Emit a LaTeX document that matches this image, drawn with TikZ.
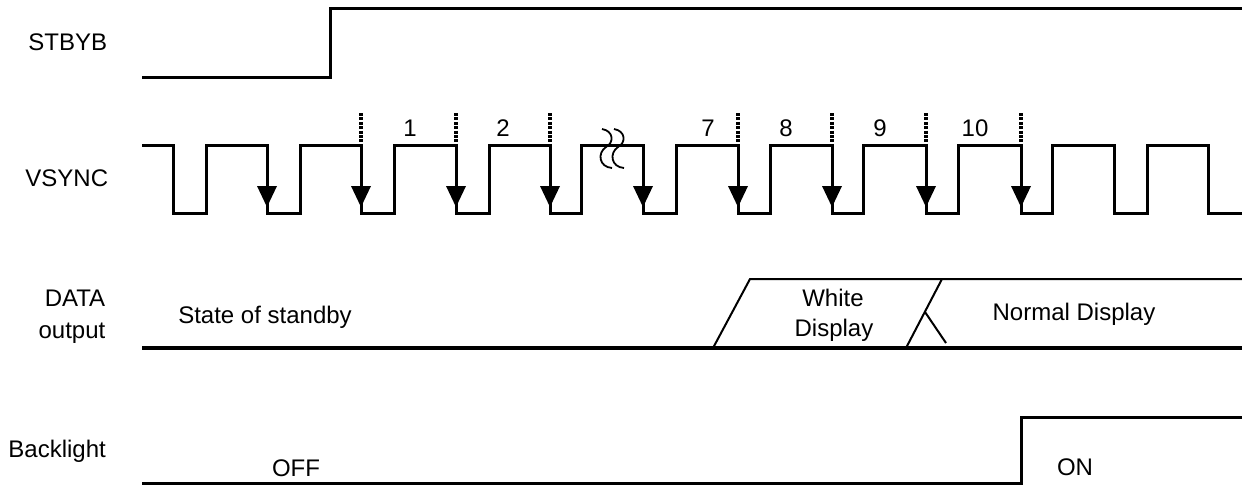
\documentclass[tikz,border=0pt]{standalone}
\usepackage{fontspec}
\setmainfont{Liberation Sans}
\begin{document}
\begin{tikzpicture}[x=0.5pt,y=-0.5pt,
  sig/.style={line width=1.5pt,line join=miter},
  thinsig/.style={line width=1pt},
  lbl/.style={inner sep=0pt,anchor=base,font=\fontsize{12}{14}\selectfont},
  dotmark/.style={line width=1.7pt,dash pattern=on 1.5pt off 0.7pt},
  arrline/.style={line width=1pt},
  arrhead/.style={fill=black,draw=none}]
\useasboundingbox (0,0) rectangle (1242,484);

% ---- labels on the left
\node[lbl,anchor=base west] (lstby) at (28,50) {STBYB};
\node[lbl,anchor=base west] (lvs) at (25,186) {VSYNC};
\node[lbl] (ldata) at (75,306) {DATA};
\node[lbl] (lout) at (72,338) {output};
\node[lbl,anchor=base west] (lback) at (8,457) {Backlight};

% ---- STBYB
\draw[sig] (142,77) -- (330,77) -- (330,8) -- (1242,8);

% ---- VSYNC waveform
\draw[sig] (142,145) -- (173,145) -- (173,213) -- (206,213) -- (206,145)
  -- (267,145) -- (267,213) -- (300,213) -- (300,145)
  -- (361,145) -- (361,213) -- (394,213) -- (394,145)
  -- (456,145) -- (456,213) -- (489,213) -- (489,145)
  -- (550,145) -- (550,213) -- (581,213) -- (581,145)
  -- (643,145) -- (643,213) -- (676,213) -- (676,145)
  -- (738,145) -- (738,213) -- (770,213) -- (770,145)
  -- (832,145) -- (832,213) -- (863,213) -- (863,145)
  -- (926,145) -- (926,213) -- (958,213) -- (958,145)
  -- (1021,145) -- (1021,213) -- (1052,213) -- (1052,145)
  -- (1114,145) -- (1114,213) -- (1147,213) -- (1147,145)
  -- (1208,145) -- (1208,213) -- (1242,213);

% arrows on falling edges
\foreach \x in {267,361,456,550,643,738,832,926,1021}{
  \draw[arrline] (\x,145) -- (\x,205);
  \fill[arrhead] (\x-10,186) -- (\x+10,186) -- (\x,207) -- cycle;
}
% dotted markers
\foreach \x in {361,456,550,738,832,926,1021}{
  \draw[dotmark] (\x,113) -- (\x,145);
}
% frame numbers
\node[lbl] (n1) at (410,136) {1};
\node[lbl] (n2) at (503,136) {2};
\node[lbl] (n7) at (708,136) {7};
\node[lbl] (n8) at (786,136) {8};
\node[lbl] (n9) at (880,136) {9};
\node[lbl] (n10) at (975,136) {10};

% break symbol
\foreach \dx in {0,12}{
  \draw[line width=0.9pt,xshift=\dx*0.5pt]
    (602,129) .. controls (614,131) and (614,143) .. (606,147)
    .. controls (597,153) and (599,167) .. (612,168);
}

% ---- DATA output
\draw[line width=1.8pt] (142,348) -- (1242,348);
\draw[thinsig] (713,348) -- (750,279) -- (1242,279);
\draw[thinsig] (906,348) -- (942,279);
\draw[thinsig] (925,312) -- (946,343);
\node[lbl] (standby) at (265,323) {State of standby};
\node[lbl] (white) at (833,306) {White};
\node[lbl] (disp) at (834,336) {Display};
\node[lbl] (normal) at (1074,320) {Normal Display};

% ---- Backlight
\draw[sig] (142,483) -- (1021,483) -- (1021,417) -- (1242,417);
\node[lbl] (off) at (296,476) {OFF};
\node[lbl] (on) at (1075,475) {ON};
\end{tikzpicture}
\end{document}
